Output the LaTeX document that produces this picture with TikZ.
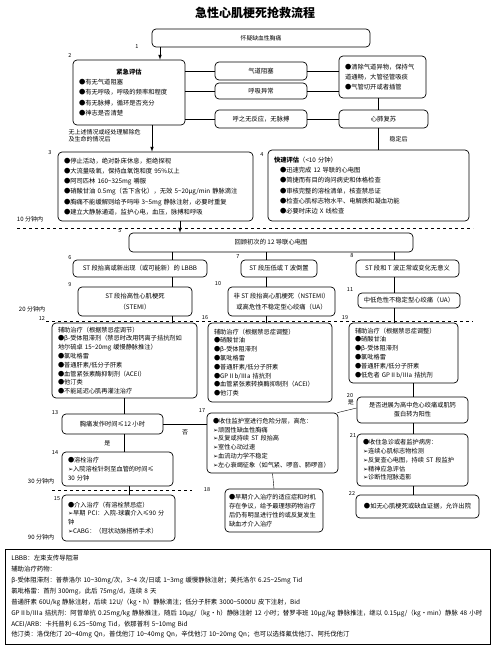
\documentclass[tikz,border=0pt]{standalone}
\usepackage{fontspec}
\setmainfont{Noto Sans CJK SC}
\newfontfamily\symfont{DejaVu Sans}
\usetikzlibrary{arrows}

\newcommand\tld{\textasciitilde}
\newcommand\arw{{\symfont\char"27A2}}
\newcommand\bul{●}
\def\bigtxt{\fontsize{6.3}{10.3}\selectfont}
\def\smtxt{\fontsize{6.2}{8.8}\selectfont}

\begin{document}
\begin{tikzpicture}[x=1pt,y=-1pt,
    box/.style={draw,fill=white,rounded corners=4pt,line width=0.7pt,inner xsep=6pt,inner ysep=2pt,align=left,font=\bigtxt},
    cbox/.style={box,align=center},
    lowbox/.style={box,font=\smtxt},
    num/.style={font=\fontsize{5.5}{6}\selectfont},
    tag/.style={font=\fontsize{6}{7}\selectfont},
    arr/.style={->,>=latex,line width=0.7pt},
    limit/.style={dashed,line width=0.6pt},
]
\useasboundingbox (0,0) rectangle (500,651);

\node[font=\fontsize{12}{14}\selectfont\bfseries] (title) at (255,13) {急性心肌梗死抢救流程};

%% first assessment
\node[cbox,minimum width=218pt,minimum height=18pt,font=\fontsize{5.8}{7}\selectfont] (b1) at (261,38) {怀疑缺血性胸痛};
\node[box,text width=100pt,minimum height=65pt] (b2) at (129,92.5)
  {\noindent\makebox[\hsize]{\bfseries 紧急评估}\\
   \bul 有无气道阻塞\\
   \bul 有无呼吸，呼吸的频率和程度\\
   \bul 有无脉搏，循环是否充分\\
   \bul 神志是否清楚};
\node[cbox,minimum width=92pt,minimum height=18pt] (b2a) at (261,71) {气道阻塞};
\node[cbox,minimum width=92pt,minimum height=16pt] (b2b) at (261,91) {呼吸异常};
\node[cbox,minimum width=92pt,minimum height=18pt] (b2c) at (261,119) {呼之无反应，无脉搏};
\node[box,text width=75pt,minimum height=42pt] (air) at (382.5,77)
  {\bul 清除气道异物，保持气\\道通畅，大管径管吸痰\\\bul 气管切开或者插管};
\node[cbox,minimum width=89pt,minimum height=18pt] (cpr) at (383.5,119) {心肺复苏};

%% first treatment and rapid assessment
\node[box,text width=183pt,minimum height=69pt] (b3) at (155.5,186.5)
  {\bul 停止活动，绝对卧床休息，拒绝探视\\
   \bul 大流量吸氧，保持血氧饱和度 95\%以上\\
   \bul 阿司匹林 160\tld 325mg 嚼服\\
   \bul 硝酸甘油 0.5mg（舌下含化），无效 5\tld 20μg/min 静脉滴注\\
   \bul 胸痛不能缓解则给予吗啡 3\tld 5mg 静脉注射，必要时重复\\
   \bul 建立大静脉通道，监护心电，血压，脉搏和呼吸};
\node[box,text width=189pt,minimum height=71pt] (b4) at (368.5,185.5)
  {\textbf{快速评估}（<10 分钟）\\
   \hspace*{6pt}\bul 迅速完成 12 导联的心电图\\
   \hspace*{6pt}\bul 简捷而有目的询问病史和体格检查\\
   \hspace*{6pt}\bul 审核完整的溶栓清单，核查禁忌证\\
   \hspace*{6pt}\bul 检查心肌标志物水平、电解质和凝血功能\\
   \hspace*{6pt}\bul 必要时床边 X 线检查};

%% ECG
\node[cbox,minimum width=284pt,minimum height=19pt] (b5) at (271,242.5) {回顾初次的 12 导联心电图};
\node[cbox,minimum width=134pt,minimum height=17pt] (b6) at (140,268.5) {ST 段抬高或新出现（或可能新）的 LBBB};
\node[cbox,minimum width=76pt,minimum height=17pt] (b7) at (279,268.5) {ST 段压低或 T 波倒置};
\node[cbox,minimum width=103pt,minimum height=17pt] (b8) at (407.5,268.5) {ST 段和 T 波正常或变化无意义};
\node[cbox,minimum width=114pt,minimum height=29pt] (b9) at (135,301.5) {ST 段抬高性心肌梗死\\（STEMI）};
\node[cbox,inner xsep=3pt,minimum width=107pt,minimum height=29pt] (b10) at (281.5,301.5) {非 ST 段抬高心肌梗死（NSTEMI）\\或高危性不稳定型心绞痛（UA）};
\node[cbox,minimum width=102pt,minimum height=15pt] (b11) at (409,300.5) {中低危性不稳定型心绞痛（UA）};

%% adjuvant therapy
\node[lowbox,text width=133pt,minimum height=75pt] (b12) at (124.5,360.5)
  {辅助治疗（根据禁忌症调节）\\
   \bul β-受体阻滞剂（禁忌时改用钙离子拮抗剂如\\
   地尔硫卓 15\tld 20mg 缓慢静脉推注）\\
   \bul 氯吡格雷\\
   \bul 普通肝素/低分子肝素\\
   \bul 血管紧张素酶抑制剂（ACEI）\\
   \bul 他汀类\\
   \bul 不能延迟心肌再灌注治疗};
\node[lowbox,text width=112pt,minimum height=79pt] (b16) at (270,362.5)
  {辅助治疗（根据禁忌症调整）\\
   \bul 硝酸甘油\\
   \bul β-受体阻滞剂\\
   \bul 氯吡格雷\\
   \bul 普通肝素/低分子肝素\\
   \bul GPⅡb/Ⅲa 拮抗剂\\
   \bul 血管紧张素转换酶抑制剂（ACEI）\\
   \bul 他汀类};
\node[lowbox,text width=97pt,minimum height=60pt] (b19) at (403.5,353)
  {辅助治疗（根据禁忌症调整）\\
   \bul 硝酸甘油\\
   \bul β-受体阻滞剂\\
   \bul 氯吡格雷\\
   \bul 普通肝素/低分子肝素\\
   \bul 低危者 GPⅡb/Ⅲa 拮抗剂};

%% reperfusion
\node[cbox,minimum width=101pt,minimum height=20pt] (b13) at (112.5,424) {胸痛发作时间≤12 小时};
\node[lowbox,text width=99pt,minimum height=34pt] (b14) at (117.5,469)
  {\bul 溶栓治疗\\
   \arw 入院溶栓针刺至血管的时间≤\\
   30 分钟};
\node[lowbox,text width=101pt,minimum height=46pt] (b15) at (118.5,518)
  {\bul 介入治疗（有溶栓禁忌症）\\
   \arw 早期 PCI：入院-球囊介入≤90 分\\
   钟\\
   \arw CABG：（冠状动脉搭桥手术）};
\node[lowbox,text width=119pt,minimum height=60pt] (b17) at (272.5,443)
  {\bul 收住监护室进行危险分层，高危：\\
   \arw 顽固性缺血性胸痛\\
   \arw 反复或持续 ST 段抬高\\
   \arw 室性心动过速\\
   \arw 血流动力学不稳定\\
   \arw 左心衰竭征象（如气紧、啰音、肺啰音）};
\node[lowbox,inner xsep=4pt,text width=90pt,minimum height=43pt] (b18) at (274,510.5)
  {\bul 早期介入治疗的适应症和时机\\
   存在争议，给予最理想药物治疗\\
   后仍有明显进行性的或反复发生\\
   缺血才介入治疗};
\node[cbox,font=\smtxt,minimum width=111pt,minimum height=26pt] (b20) at (412.5,410)
  {是否进展为高中危心绞痛或肌钙\\蛋白转为阳性};
\node[lowbox,text width=99pt,minimum height=52pt] (b21) at (412.5,460)
  {\bul 收住急诊或者监护病房：\\
   \arw 连续心肌标志物检测\\
   \arw 反复查心电图，持续 ST 段监护\\
   \arw 精神应急评估\\
   \arw 诊断性冠脉造影};
\node[cbox,minimum width=123pt,minimum height=23pt] (b22) at (417.5,506.5) {\bul 如无心肌梗死或缺血证据，允许出院};

% step numbers
\foreach \n/\x/\y in {1/137/47,2/70/56,3/50/153,4/262/155,5/120/231,6/70/258,7/238/257,
    8/352/256,9/70/285,10/218/284,11/350/290,12/42/318,16/205/318,19/345/318,13/55/413,
    17/202/411,20/350/396,21/353/435,14/55/453,15/57/499,18/207/490,22/352/493}
  \node[num] (l\n) at (\x,\y) {\n};

% time limits
\node[tag] (t10) at (30,219) {10 分钟内};
\node[tag] (t20) at (32,309) {20 分钟内};
\node[tag] (t30) at (41,481) {30 分钟内};
\node[tag] (t90) at (41,537) {90 分钟内};
\draw[limit] (17,228) -- (473,228);
\draw[limit] (46,321) -- (473,321);
\draw[limit] (52,490) -- (192,490);

%% connectors
\coordinate (xa) at (124,0);
\coordinate (xb) at (172,0);
\coordinate (xc) at (266,0);
\coordinate (xd) at (394,0);
\coordinate (xe) at (413,0);
\coordinate (xf) at (378,0);

\draw[arr] (b1.south -| 160,0) -- (b2.north -| 160,0);
{[arr]
    \draw (b2.east |- b2a) -- (b2a.west);
    \draw (b2.east |- b2b) -- (b2b.west);
    \draw (b2.east |- b2c) -- (b2c.west);
    \draw (b2a.east) -- (b2a.east -| air.west);
    \draw (b2b.east) -- (b2b.east -| air.west);
    \draw (b2c.east) -- (cpr.west);
    \draw (air.south -| xf) -- (cpr.north -| xf);
    \draw (cpr.south -| xf) -- (b4.north -| xf) node[tag,midway,right=8pt] (stab) {稳定后};
}
\node[tag,anchor=west,align=left] (nolife) at (65,136) {无上述情况或经处理解除危\\及生命的情况后};
\draw[arr] (b2.south -| 152,0) -- (b3.north -| 152,0);
\draw[arr] (b3.south -| 180,0) -- (b5.north -| 180,0);

{[arr]
    \draw (b5.south -| xb) -- (b6.north -| xb);
    \draw (b5.south -| xc) -- (b7.north -| xc);
    \draw (b5.south -| xd) -- (b8.north -| xd);
    \draw (b6.south -| xb) -- (b9.north -| xb);
    \draw (b7.south -| xc) -- (b10.north -| xc);
    \draw (b8.south -| xd) -- (b11.north -| xd);
    \draw (b9.south -| xb) -- (b12.north -| xb);
    \draw (b10.south -| xc) -- (b16.north -| xc);
    \draw (b11.south -| xd) -- (b19.north -| xd);
    \draw (b12.south -| xa) -- (b13.north -| xa);
    \draw (b13.south -| xa) -- (b14.north -| xa) node[tag,midway,left=10pt] (yes1) {是};
    \draw (b14.south -| 129,0) -- (b15.north -| 129,0);
    \draw (b13.east) -- (b13.east -| b17.west) node[tag,midway,below=2pt] (no1) {否};
    \draw (b17.south) -- (b18.north);
    \draw (b19.south -| xe) -- (b20.north -| xe);
    \draw ([yshift=2pt]b20.west) -- ([xshift=-1pt]b17.north east) node[tag,pos=0.3,above=1pt] (yes2) {是};
    \draw (b20.south -| xe) -- (b21.north -| xe);
    \draw (b21.south -| xe) -- (b22.north -| xe);
}

%% drug notes
\node[draw,line width=0.6pt,anchor=north west,inner sep=6pt,text width=473pt,minimum height=94pt,align=left,
      font=\fontsize{6.4}{10.9}\selectfont] (notes) at (5,549)
  {LBBB：左束支传导阻滞\\
   辅助治疗药物：\\
   β-受体阻滞剂：普萘洛尔 10\tld 30mg/次，3\tld 4 次/日或 1\tld 3mg 缓慢静脉注射；美托洛尔 6.25\tld 25mg Tid\\
   氯吡格雷：首剂 300mg，此后 75mg/d，连续 8 天\\
   普通肝素 60U/kg 静脉注射，后续 12U/（kg·h）静脉滴注；低分子肝素 3000\tld 5000U 皮下注射，Bid\\
   GPⅡb/Ⅲa 拮抗剂：阿昔单抗 0.25mg/kg 静脉推注，随后 10μg/（kg·h）静脉注射 12 小时；替罗非班 10μg/kg 静脉推注，继以 0.15μg/（kg·min）静脉 48 小时\\
   ACEI/ARB：卡托普利 6.25\tld 50mg Tid，依那普利 5\tld 10mg Bid\\
   他汀类：洛伐他汀 20\tld 40mg Qn，普伐他汀 10\tld 40mg Qn，辛伐他汀 10\tld 20mg Qn；也可以选择氟伐他汀、阿托伐他汀};

\end{tikzpicture}
\end{document}
